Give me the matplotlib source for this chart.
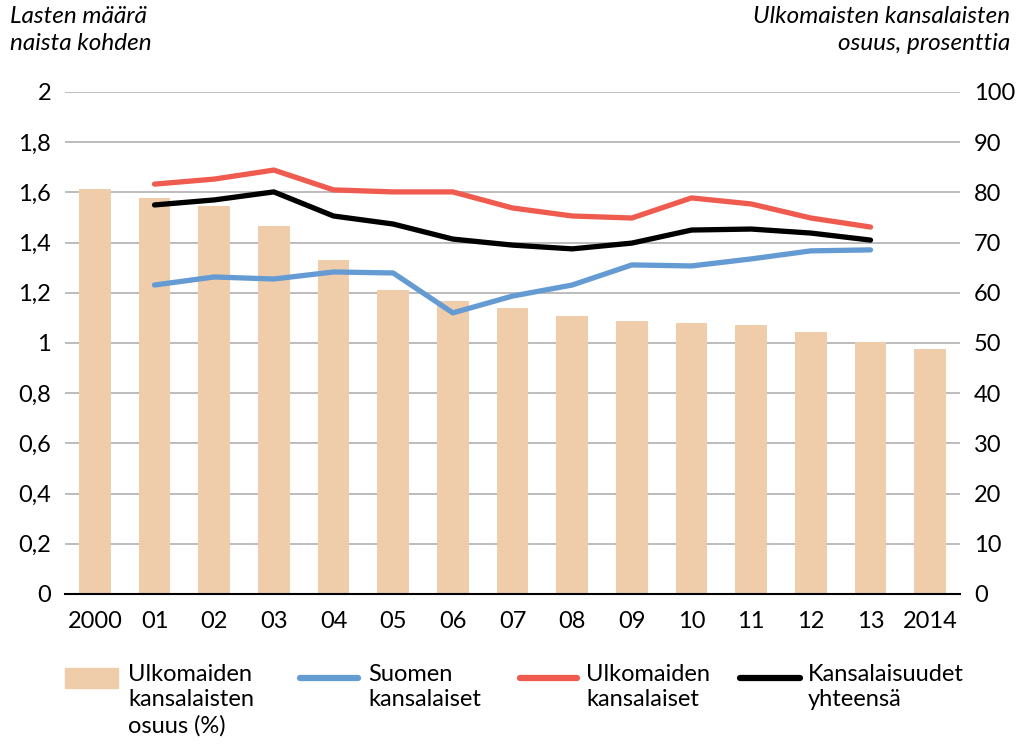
import matplotlib
matplotlib.use("Agg")
import matplotlib.pyplot as plt
from matplotlib.patches import Rectangle
from matplotlib.lines import Line2D

years = ["2000", "01", "02", "03", "04", "05", "06", "07", "08", "09",
         "10", "11", "12", "13", "2014"]
# share of foreign nationals (%) -> right axis
foreign_share = [80.7, 78.9, 77.3, 73.3, 66.5, 60.6, 58.4, 57.0, 55.4, 54.4,
                 54.0, 53.6, 52.2, 50.2, 48.8]
# fertility (children per woman), 2001-2013 -> left axis
line_years = years[1:14]
finnish = [1.231, 1.263, 1.255, 1.283, 1.279, 1.120, 1.187, 1.231, 1.311,
           1.307, 1.335, 1.367, 1.371]
foreign = [1.633, 1.653, 1.689, 1.610, 1.602, 1.602, 1.538, 1.506, 1.498,
           1.578, 1.554, 1.498, 1.462]
total = [1.550, 1.570, 1.602, 1.506, 1.474, 1.414, 1.390, 1.375, 1.398,
         1.450, 1.454, 1.438, 1.410]
left_ticks = ["0", "0,2", "0,4", "0,6", "0,8", "1", "1,2", "1,4", "1,6", "1,8", "2"]

BAR = "#F0CDAA"
BLUE = "#659BD3"
RED = "#EF5B4E"
BLACK = "#000000"
GRID = "#B0B0B0"

plt.rcParams["font.family"] = ["Lato", "DejaVu Sans"]
plt.rcParams["font.size"] = 17

W, H = 1019, 744
fig = plt.figure(figsize=(W / 100, H / 100), dpi=100)
ax2 = fig.add_axes([65 / W, 1 - 594 / H, 895 / W, 502 / H])
ax = ax2.twinx()

x = list(range(len(years)))
ax2.bar(x, foreign_share, width=0.53, color=BAR, zorder=2)
ax2.set_ylim(0, 100)
ax2.set_yticks(range(0, 101, 10))
ax2.set_xlim(-0.5, len(years) - 0.5)
ax2.grid(axis="y", color=GRID, lw=1.2, zorder=0)
ax2.set_axisbelow(True)

lx = [years.index(y) for y in line_years]
for vals, c in ((finnish, BLUE), (foreign, RED), (total, BLACK)):
    ax.plot(lx, vals, color=c, lw=3.8, solid_capstyle="round",
            solid_joinstyle="round", zorder=3)
ax.set_ylim(0, 2)
ax.set_yticks([i * 0.2 for i in range(11)])

# left axis = lines (children per woman), right axis = bar share
ax.yaxis.tick_left()
ax2.yaxis.tick_right()
ax.set_yticklabels(left_ticks)
ax2.set_yticklabels([str(v) for v in range(0, 101, 10)])

for a in (ax, ax2):
    for s in ("top", "left", "right"):
        a.spines[s].set_visible(False)
    a.tick_params(length=0, pad=10)
ax2.spines["bottom"].set_color("black")
ax2.spines["bottom"].set_linewidth(1.5)
ax.spines["bottom"].set_visible(False)
ax2.set_xticks(x)
ax2.set_xticklabels(years)
ax2.tick_params(axis="x", pad=12)

fig.text(10 / W, 1 - 6 / H, "Lasten määrä\nnaista kohden", ha="left", va="top",
         style="italic", fontsize=17.5, linespacing=1.35)
fig.text(1010 / W, 1 - 6 / H, "Ulkomaisten kansalaisten\nosuus, prosenttia",
         ha="right", va="top", style="italic", fontsize=17.5, linespacing=1.35)

# legend drawn by hand in figure pixels
leg_y = 678
fig.add_artist(Rectangle((65 / W, 1 - 688 / H), 53 / W, 20 / H,
                         transform=fig.transFigure, color=BAR))
for (x0, x1), c in (((300, 358), BLUE), ((520, 577), RED), ((740, 800), BLACK)):
    fig.add_artist(Line2D([x0 / W, x1 / W], [1 - leg_y / H] * 2,
                          transform=fig.transFigure, color=c, lw=4.5,
                          solid_capstyle="round"))
labels = ["Ulkomaiden\nkansalaisten\nosuus (%)", "Suomen\nkansalaiset",
          "Ulkomaiden\nkansalaiset", "Kansalaisuudet\nyhteensä"]
for tx, lab in zip((128, 368, 586, 808), labels):
    fig.text(tx / W, 1 - 664 / H, lab, ha="left", va="top", fontsize=17,
             linespacing=1.25)

fig.savefig("out.png", dpi=100)
